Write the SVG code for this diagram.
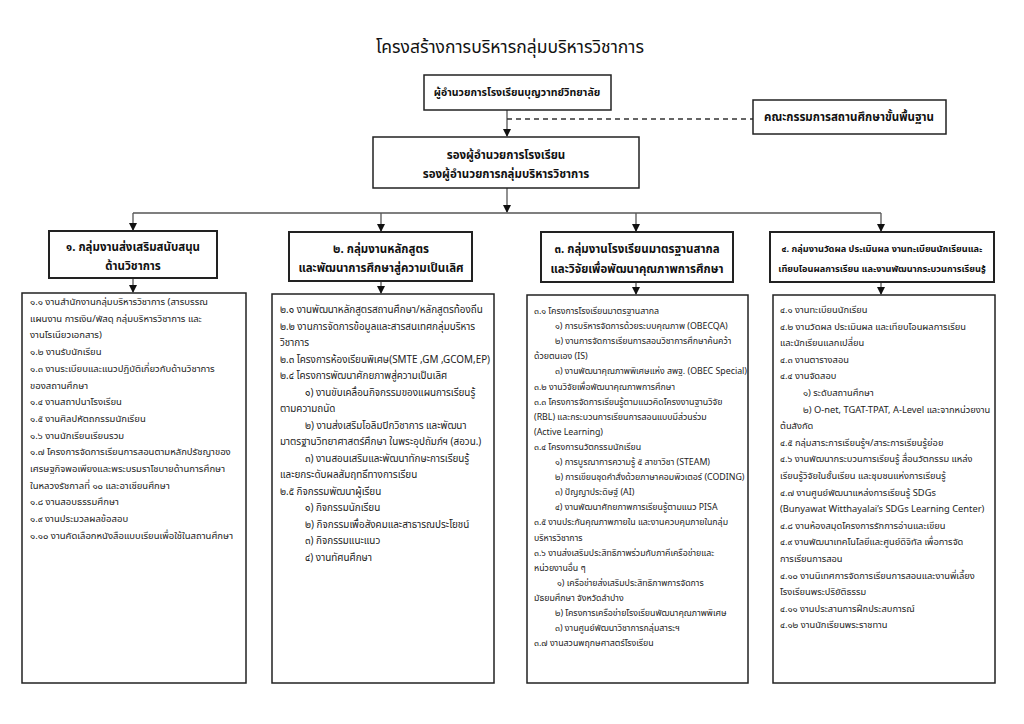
<svg xmlns="http://www.w3.org/2000/svg" width="1024" height="724" viewBox="0 0 1024 724">
<defs>
<marker id="arr" markerWidth="8" markerHeight="8" refX="7" refY="4" orient="auto" markerUnits="userSpaceOnUse"><path d="M0,0 L8,4 L0,8 Z" fill="#111"/></marker>
<style>
.t{font-family:"Noto Sans Thai","Noto Sans","DejaVu Sans",sans-serif;fill:#222}
.title{font-size:17.5px;text-anchor:middle;fill:#111}
.box{fill:#fff;stroke:#222;stroke-width:1.5}
.hbox{fill:#fff;stroke:#222;stroke-width:2}
.h{font-size:11.5px;font-weight:bold;text-anchor:middle;fill:#111}
.h4{font-size:9.2px;font-weight:bold;text-anchor:middle;fill:#111}
.m{font-size:11.5px;font-weight:bold;text-anchor:middle;fill:#111}
.md{font-size:10.5px;font-weight:bold;text-anchor:middle;fill:#111}
.b1{font-size:9.5px}
.b2{font-size:9.9px}
.b4{font-size:9.3px}
.b3{font-size:8.8px}
.ln{stroke:#555;stroke-width:1.3;fill:none}
.dash{stroke:#333;stroke-width:1.3;stroke-dasharray:5,4;fill:none}
</style>
</defs>
<rect width="1024" height="724" fill="#fff"/>
<text class="t title" x="510" y="53">โครงสร้างการบริหารกลุ่มบริหารวิชาการ</text>

<g id="connectors">
<path class="ln" d="M507,110 V136" marker-end="url(#arr)"/>
<path class="dash" d="M507,119 H753"/>
<path class="ln" d="M507,188 V212" marker-end="url(#arr)"/>
<path class="ln" d="M133,213 H881"/>
<path class="ln" d="M133,213 V230" marker-end="url(#arr)"/>
<path class="ln" d="M381,213 V231" marker-end="url(#arr)"/>
<path class="ln" d="M636,213 V231" marker-end="url(#arr)"/>
<path class="ln" d="M881,213 V231" marker-end="url(#arr)"/>
<path class="ln" d="M133,278 V292" marker-end="url(#arr)"/>
<path class="ln" d="M381,281 V293" marker-end="url(#arr)"/>
<path class="ln" d="M636,282 V294" marker-end="url(#arr)"/>
<path class="ln" d="M881,282 V294" marker-end="url(#arr)"/>
</g>

<g id="director">
<rect class="box" x="424" y="75" width="187" height="35"/>
<text class="t md" x="517" y="96">ผู้อำนวยการโรงเรียนบุญวาทย์วิทยาลัย</text>
</g>
<g id="committee">
<rect class="box" x="753" y="100" width="193" height="34"/>
<text class="t m" x="849" y="121">คณะกรรมการสถานศึกษาขั้นพื้นฐาน</text>
</g>
<g id="vice">
<rect class="box" x="373" y="137" width="266" height="51"/>
<text class="t m" x="506" y="159">รองผู้อำนวยการโรงเรียน</text>
<text class="t m" x="506" y="178">รองผู้อำนวยการกลุ่มบริหารวิชาการ</text>
</g>

<g id="h1">
<rect class="hbox" x="49" y="231" width="168" height="47"/>
<text class="t h" x="133" y="251">๑. กลุ่มงานส่งเสริมสนับสนุน</text>
<text class="t h" x="133" y="270">ด้านวิชาการ</text>
</g>
<g id="h2">
<rect class="hbox" x="289" y="232" width="183" height="49"/>
<text class="t h" x="381" y="253">๒. กลุ่มงานหลักสูตร</text>
<text class="t h" x="381" y="272">และพัฒนาการศึกษาสู่ความเป็นเลิศ</text>
</g>
<g id="h3">
<rect class="hbox" x="541" y="232" width="192" height="50"/>
<text class="t h" x="637" y="253">๓. กลุ่มงานโรงเรียนมาตรฐานสากล</text>
<text class="t h" x="637" y="273">และวิจัยเพื่อพัฒนาคุณภาพการศึกษา</text>
</g>
<g id="h4">
<rect class="hbox" x="770" y="232" width="224" height="50"/>
<text class="t h4" x="882" y="252">๔. กลุ่มงานวัดผล ประเมินผล งานทะเบียนนักเรียนและ</text>
<text class="t h4" x="882" y="272">เทียบโอนผลการเรียน และงานพัฒนากระบวนการเรียนรู้</text>
</g>

<g id="c1">
<rect class="box" x="22" y="293" width="224" height="390"/>
<g class="t b1">
<text x="30" y="305">๑.๑ งานสำนักงานกลุ่มบริหารวิชาการ (สารบรรณ</text>
<text x="30" y="321.7">แผนงาน การเงิน/พัสดุ กลุ่มบริหารวิชาการ และ</text>
<text x="30" y="338.4">งานโรเนียวเอกสาร)</text>
<text x="30" y="355.1">๑.๒ งานรับนักเรียน</text>
<text x="30" y="371.8">๑.๓ งานระเบียบและแนวปฏิบัติเกี่ยวกับด้านวิชาการ</text>
<text x="30" y="388.5">ของสถานศึกษา</text>
<text x="30" y="405.2">๑.๔ งานสถาปนาโรงเรียน</text>
<text x="30" y="421.9">๑.๕ งานศิลปหัตถกรรมนักเรียน</text>
<text x="30" y="438.6">๑.๖ งานนักเรียนเรียนรวม</text>
<text x="30" y="455.3">๑.๗ โครงการจัดการเรียนการสอนตามหลักปรัชญาของ</text>
<text x="30" y="472">เศรษฐกิจพอเพียงและพระบรมราโชบายด้านการศึกษา</text>
<text x="30" y="488.7">ในหลวงรัชกาลที่ ๑๐ และอาเซียนศึกษา</text>
<text x="30" y="505.4">๑.๘ งานสอบธรรมศึกษา</text>
<text x="30" y="522.1">๑.๙ งานประมวลผลข้อสอบ</text>
<text x="30" y="538.8">๑.๑๐ งานคัดเลือกหนังสือแบบเรียนเพื่อใช้ในสถานศึกษา</text>
</g>
</g>

<g id="c2">
<rect class="box" x="272" y="294" width="222" height="389"/>
<g class="t b2">
<text x="280" y="313">๒.๑ งานพัฒนาหลักสูตรสถานศึกษา/หลักสูตรท้องถิ่น</text>
<text x="280" y="329.5">๒.๒ งานการจัดการข้อมูลและสารสนเทศกลุ่มบริหาร</text>
<text x="280" y="346">วิชาการ</text>
<text x="280" y="362.5">๒.๓ โครงการห้องเรียนพิเศษ(SMTE ,GM ,GCOM,EP)</text>
<text x="280" y="379">๒.๔ โครงการพัฒนาศักยภาพสู่ความเป็นเลิศ</text>
<text x="305" y="395.5">๑) งานขับเคลื่อนกิจกรรมของแผนการเรียนรู้</text>
<text x="280" y="412">ตามความถนัด</text>
<text x="305" y="428.5">๒) งานส่งเสริมโอลิมปิกวิชาการ และพัฒนา</text>
<text x="280" y="445">มาตรฐานวิทยาศาสตร์ศึกษา ในพระอุปถัมภ์ฯ (สอวน.)</text>
<text x="305" y="461.5">๓) งานสอนเสริมและพัฒนาทักษะการเรียนรู้</text>
<text x="280" y="478">และยกระดับผลสัมฤทธิ์ทางการเรียน</text>
<text x="280" y="494.5">๒.๕ กิจกรรมพัฒนาผู้เรียน</text>
<text x="305" y="511">๑) กิจกรรมนักเรียน</text>
<text x="305" y="527.5">๒) กิจกรรมเพื่อสังคมและสาธารณประโยชน์</text>
<text x="305" y="544">๓) กิจกรรมแนะแนว</text>
<text x="305" y="560.5">๔) งานทัศนศึกษา</text>
</g>
</g>

<g id="c3">
<rect class="box" x="527" y="295" width="221" height="388"/>
<g class="t b3">
<text x="534" y="314">๓.๑ โครงการโรงเรียนมาตรฐานสากล</text>
<text x="555" y="329.1">๑) การบริหารจัดการด้วยระบบคุณภาพ (OBECQA)</text>
<text x="555" y="344.2">๒) งานการจัดการเรียนการสอนวิชาการศึกษาค้นคว้า</text>
<text x="534" y="359.3">ด้วยตนเอง (IS)</text>
<text x="555" y="374.4">๓) งานพัฒนาคุณภาพพิเศษแห่ง สพฐ. (OBEC Special)</text>
<text x="534" y="389.5">๓.๒ งานวิจัยเพื่อพัฒนาคุณภาพการศึกษา</text>
<text x="534" y="404.6">๓.๓ โครงการจัดการเรียนรู้ตามแนวคิดโครงงานฐานวิจัย</text>
<text x="534" y="419.7">(RBL) และกระบวนการเรียนการสอนแบบมีส่วนร่วม</text>
<text x="534" y="434.8">(Active Learning)</text>
<text x="534" y="449.9">๓.๔ โครงการนวัตกรรมนักเรียน</text>
<text x="555" y="465">๑) การบูรณาการความรู้ ๕ สาขาวิชา (STEAM)</text>
<text x="555" y="480.1">๒) การเขียนชุดคำสั่งด้วยภาษาคอมพิวเตอร์ (CODING)</text>
<text x="555" y="495.2">๓) ปัญญาประดิษฐ์ (AI)</text>
<text x="555" y="510.3">๔) งานพัฒนาศักยภาพการเรียนรู้ตามแนว PISA</text>
<text x="534" y="525.4">๓.๕ งานประกันคุณภาพภายใน และงานควบคุมภายในกลุ่ม</text>
<text x="534" y="540.5">บริหารวิชาการ</text>
<text x="534" y="555.6">๓.๖ งานส่งเสริมประสิทธิภาพร่วมกับภาคีเครือข่ายและ</text>
<text x="534" y="570.7">หน่วยงานอื่น ๆ</text>
<text x="557" y="585.8">๑) เครือข่ายส่งเสริมประสิทธิภาพการจัดการ</text>
<text x="534" y="600.9">มัธยมศึกษา จังหวัดลำปาง</text>
<text x="555" y="616">๒) โครงการเครือข่ายโรงเรียนพัฒนาคุณภาพพิเศษ</text>
<text x="555" y="631.1">๓) งานศูนย์พัฒนาวิชาการกลุ่มสาระฯ</text>
<text x="534" y="646.2">๓.๗ งานสวนพฤกษศาสตร์โรงเรียน</text>
</g>
</g>

<g id="c4">
<rect class="box" x="773" y="295" width="222" height="388"/>
<g class="t b4">
<text x="780" y="313">๔.๑ งานทะเบียนนักเรียน</text>
<text x="780" y="329.6">๔.๒ งานวัดผล ประเมินผล และเทียบโอนผลการเรียน</text>
<text x="780" y="346.2">และนักเรียนแลกเปลี่ยน</text>
<text x="780" y="362.8">๔.๓ งานตารางสอน</text>
<text x="780" y="379.4">๔.๔ งานจัดสอบ</text>
<text x="803" y="396">๑) ระดับสถานศึกษา</text>
<text x="803" y="412.6">๒) O-net, TGAT-TPAT, A-Level และจากหน่วยงาน</text>
<text x="780" y="429.2">ต้นสังกัด</text>
<text x="780" y="445.8">๔.๕ กลุ่มสาระการเรียนรู้ฯ/สาระการเรียนรู้ย่อย</text>
<text x="780" y="462.4">๔.๖ งานพัฒนากระบวนการเรียนรู้ สื่อนวัตกรรม แหล่ง</text>
<text x="780" y="479">เรียนรู้วิจัยในชั้นเรียน และชุมชนแห่งการเรียนรู้</text>
<text x="780" y="495.6">๔.๗ งานศูนย์พัฒนาแหล่งการเรียนรู้ SDGs</text>
<text x="780" y="512.2">(Bunyawat Witthayalai’s SDGs Learning Center)</text>
<text x="780" y="528.8">๔.๘ งานห้องสมุดโครงการรักการอ่านและเขียน</text>
<text x="780" y="545.4">๔.๙ งานพัฒนาเทคโนโลยีและศูนย์ดิจิทัล เพื่อการจัด</text>
<text x="780" y="562">การเรียนการสอน</text>
<text x="780" y="578.6">๔.๑๐ งานนิเทศการจัดการเรียนการสอนและงานพี่เลี้ยง</text>
<text x="780" y="595.2">โรงเรียนพระปริยัติธรรม</text>
<text x="780" y="611.8">๔.๑๑ งานประสานการฝึกประสบการณ์</text>
<text x="780" y="628.4">๔.๑๒ งานนักเรียนพระราชทาน</text>
</g>
</g>
</svg>
